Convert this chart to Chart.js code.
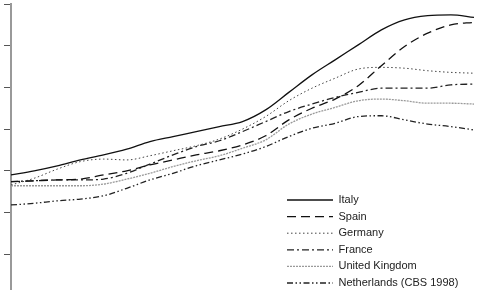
<!DOCTYPE html>
<html>
<head>
<meta charset="utf-8">
<script src="https://cdn.jsdelivr.net/npm/chart.js@4"></script>
<style>
  body { margin: 0; background: #fff; }
</style>
</head>
<body>
<canvas id="grafico" width="481" height="290"></canvas>
<script>
const anos = [1990, 1993, 1996, 1999, 2002, 2005, 2008, 2011, 2014, 2017, 2020,
  2023, 2026, 2029, 2032, 2035, 2038, 2041, 2044, 2047, 2050];
const italia = [14.5, 15.0, 15.6, 16.3, 16.9, 17.6, 18.5, 19.1, 19.7, 20.3, 20.9,
  22.3, 24.4, 26.5, 28.3, 30.1, 31.9, 33.1, 33.6, 33.7, 33.4];
const espanha = [13.7, 13.8, 13.9, 14.0, 14.5, 15.0, 15.7, 16.3, 16.9, 17.4, 18.1,
  19.2, 21.1, 22.5, 23.6, 25.2, 27.6, 29.9, 31.5, 32.5, 32.8];
const alemanha = [13.3, 14.1, 15.2, 16.1, 16.4, 16.3, 16.8, 17.4, 18.0, 18.8, 20.0,
  21.5, 23.4, 24.9, 26.1, 27.2, 27.4, 27.3, 27.0, 26.8, 26.7];
const franca = [13.7, 13.8, 13.9, 13.9, 14.0, 14.7, 15.8, 16.9, 17.9, 18.6, 19.7,
  20.9, 22.1, 23.0, 23.8, 24.4, 24.9, 24.9, 24.9, 25.3, 25.4];
const reinoUnido = [13.2, 13.2, 13.2, 13.2, 13.4, 14.0, 14.7, 15.5, 16.2, 16.8, 17.7,
  18.7, 20.6, 21.8, 22.6, 23.4, 23.6, 23.4, 23.1, 23.1, 23.0];
const holanda = [10.9, 11.1, 11.4, 11.6, 12.0, 12.9, 13.9, 14.7, 15.6, 16.3, 17.0,
  17.9, 19.1, 20.1, 20.7, 21.5, 21.6, 21.1, 20.6, 20.3, 19.9];
const rotulos = ['Italy', 'Spain', 'Germany', 'France', 'United Kingdom', 'Netherlands (CBS 1998)'];

// legenda dentro da area do grafico, canto inferior direito
const posLegenda = {
  id: 'posLegenda',
  afterLayout(chart) {
    const lg = chart.legend;
    lg.left = 281.4;
    lg.right = 481;
    lg.top = 188.9;
    lg.bottom = 320;
  }
};

const ctx = document.getElementById('grafico').getContext('2d');

function serie(label, data, cor, largura, tracejado) {
  return {
    label: label,
    data: data,
    borderColor: cor,
    backgroundColor: cor,
    borderWidth: largura,
    borderDash: tracejado,
    pointRadius: 0,
    fill: false,
    tension: 0.4,
    cubicInterpolationMode: 'monotone'
  };
}

new Chart(ctx, {
  type: 'line',
  data: {
    labels: anos,
    datasets: [
      serie(rotulos[0], italia, '#111', 1.3, []),
      serie(rotulos[1], espanha, '#111', 1.3, [9, 5]),
      serie(rotulos[2], alemanha, '#444', 1, [1.5, 2.5]),
      serie(rotulos[3], franca, '#222', 1.3, [7, 3, 2, 3]),
      serie(rotulos[4], reinoUnido, '#9a9a9a', 1.3, [2, 1]),
      serie(rotulos[5], holanda, '#222', 1.3, [6, 2.5, 1.5, 2.5, 1.5, 2.5])
    ]
  },
  options: {
    responsive: false,
    animation: false,
    layout: { padding: { left: 4, top: 4, right: 7, bottom: 0 } },
    scales: {
      x: { display: false },
      y: {
        min: 0.7,
        max: 35,
        ticks: { display: false, stepSize: 5, includeBounds: false },
        grid: { drawOnChartArea: false, drawTicks: true, tickLength: 7, tickColor: '#555' },
        border: { color: '#999', width: 2 }
      }
    },
    plugins: {
      tooltip: { enabled: false },
      legend: {
        position: 'chartArea',
        align: 'start',
        labels: {
          usePointStyle: true,
          pointStyle: 'line',
          pointStyleWidth: 46,
          padding: 5.6,
          color: '#222',
          font: { family: 'Liberation Sans, Arial, sans-serif', size: 11 },
          generateLabels(chart) {
            const itens = Chart.defaults.plugins.legend.labels.generateLabels(chart);
            itens.forEach((item) => {
              const ds = chart.data.datasets[item.datasetIndex];
              item.lineDash = ds.borderDash;
              item.lineWidth = ds.borderWidth;
              item.strokeStyle = ds.borderColor;
            });
            return itens;
          }
        }
      }
    }
  },
  plugins: [posLegenda]
});
</script>
</body>
</html>
